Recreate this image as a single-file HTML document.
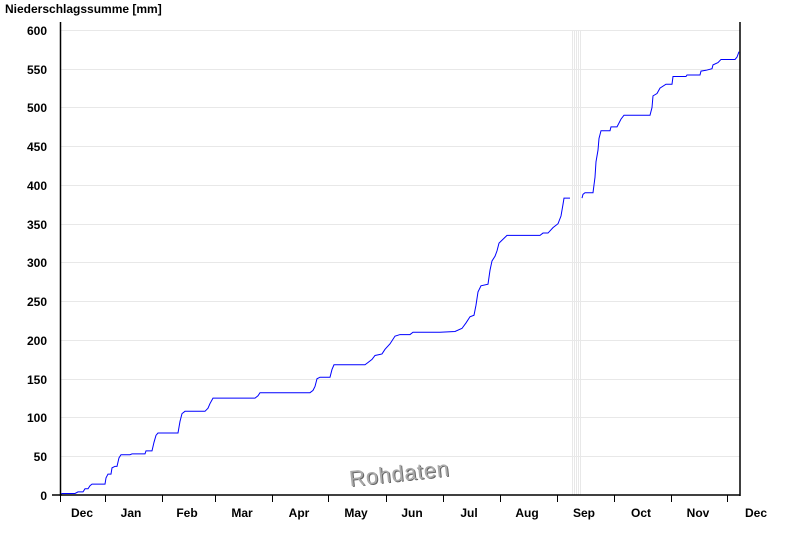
<!DOCTYPE html>
<html><head><meta charset="utf-8"><style>
html,body{margin:0;padding:0;background:#fff;}
svg text{font-family:"Liberation Sans",Arial,sans-serif;}
</style></head><body>
<svg width="800" height="550" xmlns="http://www.w3.org/2000/svg">
<rect width="800" height="550" fill="#fff"/>
<g stroke="#e8e8e8" stroke-width="1">
<line x1="61" y1="456.5" x2="740" y2="456.5"/>
<line x1="61" y1="417.5" x2="740" y2="417.5"/>
<line x1="61" y1="379.5" x2="740" y2="379.5"/>
<line x1="61" y1="340.5" x2="740" y2="340.5"/>
<line x1="61" y1="301.5" x2="740" y2="301.5"/>
<line x1="61" y1="262.5" x2="740" y2="262.5"/>
<line x1="61" y1="224.5" x2="740" y2="224.5"/>
<line x1="61" y1="185.5" x2="740" y2="185.5"/>
<line x1="61" y1="146.5" x2="740" y2="146.5"/>
<line x1="61" y1="107.5" x2="740" y2="107.5"/>
<line x1="61" y1="69.5" x2="740" y2="69.5"/>
<line x1="61" y1="30.5" x2="740" y2="30.5"/>
<line x1="572.5" y1="30" x2="572.5" y2="495"/>
<line x1="574.5" y1="30" x2="574.5" y2="495"/>
<line x1="576.5" y1="30" x2="576.5" y2="495"/>
<line x1="578.5" y1="30" x2="578.5" y2="495"/>
<line x1="580.5" y1="30" x2="580.5" y2="495"/>
</g>
<g transform="translate(0,495) scale(1,-0.775)" fill="none" stroke="#0000ff" stroke-width="1">
<polyline vector-effect="non-scaling-stroke" points="60,0 62,2 75,2 78,4 83,4 85,8 88,8 90,12 92,14 105,14 106,22 108,27 111,27 112,35 115,37 117,37 119,48 121,52 130,52 132,53 145,53 146,57 152,57 154,68 156,77 158,80 178,80 180,95 182,105 185,108 205,108 208,112 210,118 213,125 255,125 258,128 260,132 310,132 313,135 315,140 317,150 320,152 330,152 332,162 334,168 365,168 368,171 372,175 375,180 382,182 385,188 390,195 395,205 400,207 410,207 413,210 440,210 455,211 462,215 466,222 470,230 474,232 476,245 478,262 481,270 488,272 490,290 492,302 495,308 497,315 499,325 503,330 507,335 540,335 543,338 548,338 553,345 558,350 561,360 563,375 564,383 570,383"/>
<polyline vector-effect="non-scaling-stroke" points="582,383 583,388 585,390 593,390 595,410 596,430 598,445 599,460 601,470 610,470 611,475 617,475 621,485 624,490 650,490 652,500 653,515 657,518 660,525 666,530 672,530 673,540 686,540 687,542 700,542 701,547 706,548 712,550 713,555 718,558 721,562 735,562 737,565 739,572"/>
</g>
<g stroke="#000" stroke-width="1.5">
<line x1="60.5" y1="22" x2="60.5" y2="496"/>
<line x1="740" y1="22" x2="740" y2="496"/>
<line x1="52" y1="495" x2="740" y2="495"/>
</g>
<g stroke="#000" stroke-width="1">
<line x1="60.5" y1="495" x2="60.5" y2="502"/>
<line x1="105.5" y1="495" x2="105.5" y2="502"/>
<line x1="162.5" y1="495" x2="162.5" y2="502"/>
<line x1="215.5" y1="495" x2="215.5" y2="502"/>
<line x1="272.5" y1="495" x2="272.5" y2="502"/>
<line x1="328.5" y1="495" x2="328.5" y2="502"/>
<line x1="386.5" y1="495" x2="386.5" y2="502"/>
<line x1="443.5" y1="495" x2="443.5" y2="502"/>
<line x1="500.5" y1="495" x2="500.5" y2="502"/>
<line x1="557.5" y1="495" x2="557.5" y2="502"/>
<line x1="614.5" y1="495" x2="614.5" y2="502"/>
<line x1="671.5" y1="495" x2="671.5" y2="502"/>
<line x1="727.5" y1="495" x2="727.5" y2="502"/>
</g>
<g font-size="12" font-weight="bold" fill="#000" text-anchor="end">
<text x="47" y="500">0</text>
<text x="47" y="461">50</text>
<text x="47" y="422">100</text>
<text x="47" y="384">150</text>
<text x="47" y="345">200</text>
<text x="47" y="306">250</text>
<text x="47" y="267">300</text>
<text x="47" y="229">350</text>
<text x="47" y="190">400</text>
<text x="47" y="151">450</text>
<text x="47" y="112">500</text>
<text x="47" y="74">550</text>
<text x="47" y="35">600</text>
</g>
<g font-size="12" font-weight="bold" fill="#000" text-anchor="middle">
<text x="82" y="517">Dec</text>
<text x="131" y="517">Jan</text>
<text x="187" y="517">Feb</text>
<text x="242" y="517">Mar</text>
<text x="299" y="517">Apr</text>
<text x="356" y="517">May</text>
<text x="412" y="517">Jun</text>
<text x="469" y="517">Jul</text>
<text x="527" y="517">Aug</text>
<text x="584" y="517">Sep</text>
<text x="641" y="517">Oct</text>
<text x="698" y="517">Nov</text>
<text x="756" y="517">Dec</text>
</g>
<text x="5" y="13" font-size="12" font-weight="bold" fill="#000">Niederschlagssumme [mm]</text>
<g transform="rotate(-6 399 474)">
<text x="400" y="482" font-size="22" text-anchor="middle" fill="#666" textLength="100">Rohdaten</text>
<text x="399" y="481" font-size="22" text-anchor="middle" fill="#aaa" textLength="100">Rohdaten</text>
</g>
</svg>
</body></html>
